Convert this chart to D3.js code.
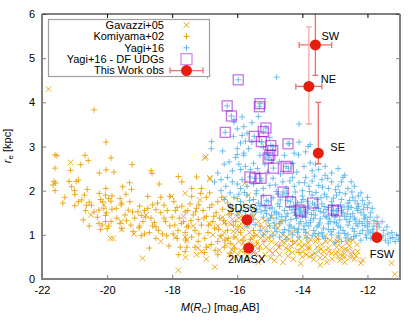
<!DOCTYPE html>
<html>
<head>
<meta charset="utf-8">
<script src="https://cdn.jsdelivr.net/npm/d3@7"></script>
<style>
  body { margin: 0; background: #fff; }
  svg { display: block; font-family: "Liberation Sans", Arial, sans-serif; }
</style>
</head>
<body>
<script>
// ---- data: [M(Rc), r_e] ----
const gavazzi = [
  [-21.8,4.3],[-21.12,2.64],[-19.9,0.92],[-19.82,0.92],[-18.91,0.47],[-17.81,0.20],[-17.59,0.49],[-18.02,1.87],
  [-20.10,1.68],[-19.57,1.30],[-19.17,1.02],[-17.9,0.95],[-17.6,0.95],[-17.55,0.88],[-17.0,2.74],[-16.84,2.26],
  [-17.6,1.94],[-17.15,1.79],[-16.38,1.83],[-15.77,2.17],[-15.66,1.90],[-15.53,1.60],[-16.69,0.27],[-16.84,2.29],
  [-16.97,2.77],[-11.26,0.36],[-11.16,0.11],[-12.15,0.43],[-17.2,0.7],[-17.1,0.62],[-16.89,0.73],[-16.17,0.66],
  [-13.77,0.51],[-12.9,0.51],[-12.2,0.36],
  [-16.6,1.2],[-16.4,1.05],[-16.3,0.9],[-16.2,1.25],[-16.1,0.75],[-16.0,1.1],[-15.9,0.65],[-15.8,0.95],[-15.7,1.2],
  [-15.6,0.8],[-15.5,0.6],[-15.4,1.0],[-15.3,0.75],[-15.2,1.15],[-15.1,0.9],[-15.0,0.65],[-14.9,1.05],[-14.8,0.8],
  [-14.7,0.55],[-14.6,1.0],[-14.5,0.7],[-14.4,0.9],[-14.3,0.6],[-14.2,1.1],[-14.1,0.8],[-14.0,0.5],[-13.9,0.95],
  [-13.8,0.7],[-13.7,0.55],[-13.6,0.85],[-13.5,0.62],[-13.4,0.78],[-13.3,0.5],[-13.2,0.7],[-13.1,0.58],[-13.0,0.82],
  [-12.9,0.6],[-12.8,0.72],[-12.7,0.5],[-12.6,0.65],[-12.5,0.55],[-12.4,0.45],[-12.3,0.62],
  [-16.45,1.4],[-16.15,1.35],[-15.95,0.85],[-15.75,0.72],[-15.55,0.92],[-15.35,1.3],[-15.15,0.55],[-14.95,0.85],
  [-14.75,1.15],[-14.55,0.82],[-14.35,0.75],[-14.15,0.65],[-13.95,0.78],[-13.75,0.9],[-13.55,0.72],[-13.35,0.62],
  [-13.15,0.88],[-12.95,0.72],[-12.75,0.6],[-12.55,0.75],[-15.85,1.15],[-15.25,0.45],[-14.85,0.42],[-14.45,0.52],
  [-13.65,0.45],[-13.25,0.38],[-12.85,0.42],[-16.25,0.55],[-14.65,1.3],[-15.05,1.2],
  [-16.52,0.95],[-16.35,0.78],[-16.12,1.08],[-15.98,0.55],[-15.82,0.82],[-15.68,0.52],[-15.45,0.75],[-15.28,0.92],
  [-15.12,0.72],[-14.98,0.48],[-14.82,0.65],[-14.62,0.85],[-14.48,0.95],[-14.28,0.45],[-14.12,0.92],[-13.98,0.62],
  [-13.82,0.82],[-13.62,0.58],[-13.42,0.68],[-13.28,0.85],[-13.08,0.45],[-12.92,0.85],[-12.78,0.52],[-12.62,0.82],
  [-12.45,0.62],[-12.32,0.78],[-12.45,0.88],[-16.05,0.95],[-15.88,1.25],[-15.62,1.05],[-15.42,0.58],[-15.18,1.02],
  [-14.92,0.58],[-14.72,0.72],[-14.42,0.65],[-14.22,0.82],[-14.02,0.72],[-13.88,0.55],[-13.58,0.95],[-13.45,0.48],
  [-13.18,0.62],[-12.98,0.58],[-12.68,0.68],[-12.52,0.48],[-12.35,0.52],[-16.75,1.0],[-16.85,1.25],[-16.55,0.65],
  [-16.4,1.28],[-15.72,0.42],[-15.35,0.38],[-14.6,0.38],[-14.05,0.35],[-13.45,0.32],[-12.7,0.38],[-15.15,1.32],
  [-14.82,1.22],[-14.35,1.05],[-13.85,1.05],[-13.3,0.98],[-12.9,0.95],[-12.6,0.88],[-15.5,1.42],[-15.95,1.38],
  [-14.95,1.4],[-16.25,1.52],[-17.35,1.2],[-17.25,0.55],[-16.95,0.45],[-18.35,0.85],[-19.55,1.12],[-20.5,1.45],
  [-18.8,1.45],[-17.65,1.42]
];

const komiyama = [
  [-21.6,2.81],[-21.54,2.79],[-21.6,2.51],[-21.12,2.46],[-20.81,2.59],[-20.68,2.80],[-20.58,2.68],[-20.03,3.10],
  [-19.88,2.74],[-20.24,2.40],[-20.03,2.47],[-19.79,2.42],[-19.23,2.59],[-18.65,2.45],[-18.62,2.39],[-20.4,3.83],
  [-21.63,2.21],[-21.58,2.17],[-21.66,2.13],[-21.6,2.0],[-21.09,2.09],[-21.17,2.21],[-20.95,2.21],[-20.88,2.24],
  [-20.61,2.03],[-20.99,1.91],[-21.36,1.72],[-21.3,1.85],[-20.88,1.75],[-20.78,1.79],[-20.99,1.66],[-20.63,1.67],
  [-20.55,1.74],[-20.66,1.55],[-20.24,1.94],[-20.04,2.05],[-19.52,2.09],[-19.31,2.18],[-19.25,2.03],
  [-20.2,1.8],[-20.13,1.75],[-20.05,1.9],[-19.95,1.82],[-19.88,1.76],[-19.85,1.88],[-19.6,1.82],[-19.55,1.72],
  [-20.4,1.52],[-20.25,1.56],[-20.1,1.6],[-20.02,1.5],[-19.72,1.6],[-19.57,1.68],[-19.35,1.56],[-19.22,1.52],
  [-19.0,1.65],[-19.05,1.52],[-18.95,1.44],[-18.75,1.6],[-18.75,1.87],[-18.4,2.15],[-18.45,1.72],[-18.5,1.57],
  [-18.35,1.5],[-18.25,1.67],[-20.73,1.34],[-20.55,1.20],[-20.25,1.26],[-20.15,1.22],[-20.05,1.3],[-19.95,1.2],
  [-19.88,1.3],[-20.2,1.12],[-20.0,1.14],[-20.05,1.44],[-19.6,1.26],[-19.55,1.14],[-19.7,1.38],[-19.4,1.32],
  [-19.27,1.22],[-19.2,1.08],[-19.15,1.38],[-19.0,1.2],[-19.02,1.16],[-18.9,1.3],[-18.82,1.40],[-18.65,1.38],
  [-18.55,1.28],[-18.5,1.18],[-18.42,1.1],[-18.7,1.05],[-18.5,0.92],[-18.3,1.02],[-18.17,0.98],[-18.07,1.2],
  [-17.97,1.02],[-17.82,1.1],[-17.72,1.26],[-17.6,1.05],[-17.55,1.18],[-18.70,0.70],[-18.1,0.75],[-17.8,0.55],
  [-17.75,0.72],[-17.55,0.72],[-17.81,2.32],[-17.25,2.31],[-17.12,1.94],[-17.4,1.87],[-17.4,2.05],[-17.7,2.2],
  [-18.07,1.87],[-17.7,1.65],[-17.6,1.52],[-17.45,1.7],[-17.35,1.45],[-17.25,1.6],[-17.2,1.35],[-17.05,1.55],
  [-16.95,1.42],[-16.85,1.62],[-16.75,1.3],[-16.65,1.5],[-16.55,1.38],[-16.45,1.58],[-16.35,1.25],[-16.25,1.45],
  [-16.15,1.6],[-16.05,1.3],[-15.95,1.5],[-15.85,1.4],[-17.65,1.3],[-17.5,1.2],[-17.3,1.1],[-17.1,1.22],
  [-16.9,1.05],[-16.7,1.15],[-16.5,0.98],[-16.3,1.1],[-16.1,0.95],[-15.9,1.05],[-17.4,0.95],[-17.2,0.85],
  [-17.0,0.92],[-16.8,0.78],[-16.6,0.85],[-16.4,0.72],[-16.2,0.8],[-15.6,0.9],[-15.4,0.82],[-15.3,1.2],
  [-15.5,1.1],[-16.95,1.85],[-16.6,1.75],[-16.3,1.72],[-17.1,2.05],[-16.85,1.95],[-16.0,1.82],[-15.8,1.68],
  [-15.55,1.45],[-17.6,0.62],[-17.0,0.6],[-16.6,0.55],[-16.2,0.58],[-18.0,1.4],[-17.9,1.55],[-17.85,0.92],
  [-18.2,1.3],[-15.0,0.95],[-14.7,0.75],[-14.3,0.85],[-13.8,0.7],[-13.5,0.9],[-14.1,0.6],
  [-17.92,1.22],[-17.78,1.38],[-17.58,0.88],[-17.42,1.32],[-17.28,1.52],[-17.18,1.02],[-17.02,1.38],[-16.88,1.22],
  [-16.72,1.42],[-16.58,1.12],[-16.42,1.32],[-16.28,0.92],[-16.12,1.22],[-15.98,1.18],[-15.82,0.88],[-15.68,1.32],
  [-15.48,0.98],[-15.32,0.68],[-15.18,0.85],[-17.85,1.62],[-17.52,1.55],[-17.18,1.68],[-16.78,1.68],[-16.48,1.85],
  [-16.18,1.48],[-17.3,0.72],[-16.95,0.72],[-16.68,0.65],[-16.38,0.88],[-16.08,0.68],[-15.78,0.62],
  [-19.45,1.45],[-19.3,1.75],[-18.85,1.55],[-18.6,1.68],[-18.25,1.38],[-18.85,1.02],[-18.6,1.2],[-18.95,0.98],
  [-19.85,1.58],[-20.3,1.4],[-20.48,1.67],[-21.0,2.0],[-20.7,1.9],[-19.42,1.92],[-18.35,1.85],[-18.15,1.55],
  [-17.95,1.75]
];

const yagi = [
  [-16.92,4.60],[-14.79,4.57],[-14.10,3.51],[-16.79,3.11],[-13.82,3.00],[-13.90,2.88],
  [-15.85,3.67],[-16.10,3.61],[-16.10,3.55],[-15.55,3.54],[-15.35,3.68],[-16.0,3.40],[-15.8,3.45],[-15.85,3.25],
  [-15.7,3.30],[-15.75,3.12],[-15.55,3.10],[-15.65,2.95],[-15.8,2.85],[-16.0,2.82],[-15.8,2.80],[-15.0,3.2],
  [-15.1,2.82],[-15.3,2.80],[-16.12,3.23],[-15.9,3.08],[-16.0,2.95],[-16.05,2.75],[-15.95,2.60],[-15.75,2.55],
  [-15.9,2.48],[-16.15,2.45],[-15.6,2.48],[-15.25,3.10],[-15.2,2.98],[-14.9,3.0],[-14.4,3.07],[-14.1,3.1],
  [-13.76,3.04],[-14.12,2.81],[-13.76,2.63],[-13.95,2.55],[-13.7,2.45],[-13.5,2.48],
  [-16.3,2.30],[-16.15,2.2],[-16.0,2.15],[-15.9,2.05],[-15.85,2.25],[-15.7,2.1],[-15.5,2.15],[-15.4,2.0],
  [-15.25,2.22],[-15.2,2.05],[-15.0,2.12],[-14.9,2.28],[-14.8,1.98],[-14.6,2.2],[-14.5,2.05],[-14.3,2.3],
  [-14.25,2.1],[-14.1,2.18],[-14.0,2.0],[-13.9,2.3],[-13.8,2.1],[-13.7,2.22],[-13.5,2.12],[-13.4,2.25],
  [-13.2,2.05],[-13.1,2.2],[-12.9,2.1],[-12.75,2.3],[-12.6,2.05],
  [-16.1,1.85],[-15.9,1.75],[-15.7,1.9],[-15.5,1.8],[-15.35,1.72],[-15.2,1.88],[-15.05,1.76],[-14.9,1.84],
  [-14.75,1.7],[-14.6,1.9],[-14.45,1.78],[-14.3,1.85],[-14.15,1.72],[-14.0,1.88],[-13.85,1.76],[-13.7,1.9],
  [-13.55,1.8],[-13.4,1.7],[-13.25,1.86],[-13.1,1.75],[-12.95,1.9],[-12.8,1.8],[-12.6,1.72],[-12.45,1.85],
  [-12.3,1.7],[-12.15,1.78],[-12.0,1.62],
  [-15.9,1.55],[-15.6,1.62],[-15.45,1.5],[-15.3,1.65],[-15.15,1.55],[-15.0,1.6],[-14.85,1.52],[-14.7,1.64],
  [-14.55,1.55],[-14.4,1.62],[-14.25,1.5],[-14.1,1.6],[-13.95,1.52],[-13.8,1.65],[-13.65,1.55],[-13.5,1.6],
  [-13.35,1.5],[-13.2,1.62],[-13.05,1.55],[-12.9,1.6],[-12.75,1.5],[-12.6,1.58],[-12.45,1.48],[-12.3,1.55],
  [-12.1,1.45],[-11.9,1.5],
  [-15.5,1.35],[-15.2,1.4],[-15.05,1.32],[-14.95,1.45],[-14.8,1.38],[-14.65,1.3],[-14.5,1.42],[-14.35,1.35],
  [-14.2,1.44],[-14.05,1.3],[-13.9,1.4],[-13.75,1.33],[-13.6,1.45],[-13.45,1.36],[-13.3,1.42],[-13.15,1.3],
  [-13.0,1.4],[-12.85,1.34],[-12.7,1.42],[-12.55,1.3],[-12.4,1.38],[-12.25,1.3],[-12.1,1.36],[-11.95,1.25],
  [-11.8,1.32],
  [-15.0,1.2],[-14.85,1.15],[-14.7,1.25],[-14.55,1.12],[-14.4,1.22],[-14.25,1.15],[-14.1,1.25],[-13.95,1.12],
  [-13.8,1.2],[-13.65,1.1],[-13.5,1.22],[-13.35,1.15],[-13.2,1.25],[-13.05,1.12],[-12.9,1.2],[-12.75,1.1],
  [-12.6,1.22],[-12.45,1.14],[-12.3,1.2],[-12.15,1.1],[-12.0,1.18],[-11.85,1.12],[-11.5,1.1],
  [-14.3,1.0],[-14.1,0.95],[-13.9,1.05],[-13.7,0.98],[-13.5,1.02],[-13.3,0.92],[-13.1,1.0],[-12.9,0.95],
  [-12.7,1.03],[-12.5,0.9],[-12.35,0.98],[-12.2,0.88],[-12.05,1.0],[-11.9,0.92],[-11.6,0.95],[-11.45,0.88],
  [-11.3,0.92],[-11.15,0.85],[-11.05,0.9],[-12.8,0.85],[-13.0,0.82],
  [-13.3,2.55],[-13.1,2.4],[-12.9,2.5],[-12.7,2.35],[-12.5,2.2],[-12.4,2.1],[-12.2,1.95],[-12.0,1.85],
  [-11.85,1.6],[-11.7,1.4],[-11.55,1.3],[-11.4,1.18],[-11.25,1.05],[-11.1,1.0],[-13.6,2.6],[-13.3,2.35],
  [-12.8,2.2],[-16.5,2.0],[-16.4,1.8],[-16.6,2.4],[-16.2,1.65],[-16.0,1.45],[-15.8,1.35],[-15.7,1.2],
  [-15.3,1.1],[-15.2,1.0],[-14.7,0.95],[-14.5,0.9],[-16.8,2.95],[-16.4,2.6],
  [-14.45,1.48],[-14.2,1.58],[-14.0,1.42],[-13.85,1.5],[-13.65,1.37],[-13.45,1.53],[-13.25,1.4],[-13.1,1.48],
  [-12.95,1.27],[-12.8,1.55],[-12.65,1.35],[-12.5,1.62],[-12.35,1.25],[-12.2,1.5],[-12.05,1.4],[-13.55,1.18],
  [-13.75,1.28],[-13.95,1.2],[-14.15,1.05],[-14.35,1.18],[-14.6,1.05],[-13.4,1.05],[-13.2,1.12],[-12.6,1.0],
  [-12.4,1.08],[-11.7,1.02],[-11.8,1.2],[-12.0,1.3],[-14.8,1.5],[-15.1,1.48],[-15.4,1.58],[-15.6,1.42],
  [-15.42,1.93],[-15.17,1.67],[-14.93,1.61],[-14.68,1.79],[-14.52,1.33],[-14.27,1.66],[-14.03,1.74],[-13.88,1.27],
  [-13.62,1.68],[-13.43,1.84],[-13.18,1.36],[-12.97,1.46],[-12.72,1.63],[-12.52,1.41],[-12.27,1.64],[-12.08,1.21],
  [-11.92,1.04],[-11.64,1.18],[-11.37,1.02],[-11.22,0.94],[-14.87,1.27],[-14.63,1.41],[-14.42,1.09],[-14.18,1.37],
  [-13.97,1.62],[-13.72,1.46],[-13.47,1.27],[-13.27,1.57],[-13.02,1.29],[-12.83,1.17],[-12.62,1.47],[-12.38,1.34],
  [-12.16,1.26],[-11.98,1.09],[-11.76,0.97],[-14.12,1.13],[-13.86,0.93],[-13.61,1.03],[-13.38,0.97],[-13.12,1.07],
  [-12.88,1.04],[-12.66,0.93],[-12.42,0.96],[-12.23,1.03],[-12.03,0.93],[-11.83,1.06],[-11.52,0.98],[-11.36,0.82],
  [-15.32,2.38],[-15.07,2.42],[-14.83,2.13],[-14.67,2.38],[-14.38,2.22],[-14.17,2.42],[-13.93,2.18],[-13.63,2.33],
  [-13.38,2.08],[-13.22,2.28],[-12.98,2.02],[-12.68,1.93],[-12.48,1.97],[-12.28,1.88],[-12.1,1.68],[-11.95,1.72],
  [-15.62,1.78],[-15.78,1.96],[-15.95,1.92],[-16.22,1.95],[-16.35,2.1],[-16.5,2.25],[-16.7,2.2],[-16.25,2.65],
  [-16.45,2.9],[-15.5,2.62],[-15.38,2.5],[-15.15,2.6],[-14.95,2.68],[-14.7,2.65],[-14.55,2.8],[-14.3,2.62],
  [-14.25,2.85],[-14.75,1.92],[-14.48,1.94],[-14.22,1.97],[-13.98,1.8],[-13.78,1.98],[-13.58,1.96],[-13.32,1.92],
  [-13.05,1.83],[-12.85,1.96],[-12.55,1.78],[-12.38,1.77],[-15.27,1.52],[-15.12,1.63],[-14.98,1.38],[-14.72,1.47],
  [-14.32,1.57],[-14.08,1.49],[-13.83,1.57],[-13.58,1.62],[-13.33,1.64],[-13.08,1.66],[-12.83,1.68],[-12.58,1.65],
  [-12.33,1.6],[-12.13,1.58],[-11.92,1.4],[-11.68,1.25],[-14.78,1.07],[-14.9,0.98],[-15.08,1.08],[-15.45,1.23],
  [-15.62,1.28],[-15.75,1.52]
];

// Yagi+16 galaxies flagged as UDGs (also plotted as Yagi points)
const udgs = [
  [-15.97,4.51],[-16.31,3.92],[-16.18,3.69],[-15.30,3.97],[-15.32,3.90],[-16.37,3.32],[-15.12,3.42],[-15.20,3.34],
  [-15.48,3.23],[-15.26,3.11],[-14.44,3.06],[-14.97,3.02],[-14.91,2.91],[-15.00,2.81],[-15.05,2.74],[-14.89,2.51],
  [-14.50,2.55],[-14.43,2.51],[-15.46,2.28],[-15.27,2.28],[-15.61,2.31],[-14.59,1.97],[-15.11,1.78],[-14.36,1.75],
  [-14.07,1.56],[-14.05,1.52],[-13.68,1.72],[-12.95,1.54],[-13.05,1.56]
];

// this work: name, M, r_e, M range, r range (null = no bar)
const obsNames = ["SW", "NE", "SE", "SDSS", "2MASX", "FSW"];
const obsM     = [-13.6, -13.8, -13.51, -15.70, -15.65, -11.71];
const obsR     = [5.3, 4.36, 2.85, 1.34, 0.70, 0.94];
const obsMErr  = [[-14.1,-13.1], [-14.2,-13.4], null, null, null, null];
const obsRErr  = [[4.61,6.3], [3.51,5.71], [2.61,4.0], null, null, [0.94,1.30]];

const xTicks = [-22, -20, -18, -16, -14, -12];
const yTicks = [0, 1, 2, 3, 4, 5, 6];
const legendLabels = ["Gavazzi+05", "Komiyama+02", "Yagi+16", "Yagi+16 - DF UDGs", "This Work obs"];

// ---- layout ----
const width = 419, height = 327;
const plotL = 42, plotR = 400, plotT = 14, plotB = 279;

const orange = "#e69f00", blue = "#56b4e9", purple = "#9400d3", red = "#e51e10";

const svg = d3.select("body").append("svg")
  .attr("width", width)
  .attr("height", height);

const x = d3.scaleLinear().domain([-22, -11]).range([plotL, plotR]);
const y = d3.scaleLinear().domain([0, 6]).range([plotB, plotT]);

svg.append("clipPath").attr("id", "plotclip")
  .append("rect").attr("x", plotL).attr("y", plotT)
  .attr("width", plotR - plotL).attr("height", plotB - plotT);

const plot = svg.append("g").attr("clip-path", "url(#plotclip)");

// symbol paths
function plus(s) { return `M${-s},0H${s}M0,${-s}V${s}`; }
function cross(s) { return `M${-s},${-s}L${s},${s}M${-s},${s}L${s},${-s}`; }

plot.append("g").selectAll("path")
  .data(gavazzi).enter().append("path")
  .attr("transform", d => `translate(${x(d[0])},${y(d[1])})`)
  .attr("d", cross(2.8))
  .attr("fill", "none").attr("stroke", orange).attr("stroke-width", 1)
  .attr("opacity", 0.85);

plot.append("g").selectAll("path")
  .data(komiyama).enter().append("path")
  .attr("transform", d => `translate(${x(d[0])},${y(d[1])})`)
  .attr("d", plus(3))
  .attr("fill", "none").attr("stroke", orange).attr("stroke-width", 1)
  .attr("opacity", 0.85);

plot.append("g").selectAll("path")
  .data(yagi.concat(udgs)).enter().append("path")
  .attr("transform", d => `translate(${x(d[0])},${y(d[1])})`)
  .attr("d", plus(3))
  .attr("fill", "none").attr("stroke", blue).attr("stroke-width", 1)
  .attr("opacity", 0.85);

plot.append("g").selectAll("rect")
  .data(udgs).enter().append("rect")
  .attr("x", d => x(d[0]) - 5)
  .attr("y", d => y(d[1]) - 5)
  .attr("width", 10).attr("height", 10)
  .attr("fill", "none").attr("stroke", purple).attr("stroke-width", 1.3)
  .attr("opacity", 0.55);

// error bars
const obs = obsNames.map((n, i) => ({ name: n, m: obsM[i], r: obsR[i], mErr: obsMErr[i], rErr: obsRErr[i] }));
const barColor = { SW: "#ef6f6a", NE: "#f7a8a5", SE: "#ef6f6a", FSW: "#f08a86" };
const cap = 3;
const bars = plot.append("g").attr("fill", "none").attr("stroke-width", 1.3);
obs.forEach(o => {
  const cx = x(o.m), cy = y(o.r);
  if (o.rErr) {
    const y0 = y(o.rErr[0]), y1 = y(o.rErr[1]);
    bars.append("path")
      .attr("stroke", barColor[o.name])
      .attr("d", `M${cx},${y0}V${y1}M${cx - cap},${y0}H${cx + cap}M${cx - cap},${y1}H${cx + cap}`);
  }
  if (o.mErr) {
    const x0 = x(o.mErr[0]), x1 = x(o.mErr[1]);
    bars.append("path")
      .attr("stroke", "#ef6f6a")
      .attr("d", `M${x0},${cy}H${x1}M${x0},${cy - cap}V${cy + cap}M${x1},${cy - cap}V${cy + cap}`);
  }
});

plot.append("g").selectAll("circle")
  .data(obs).enter().append("circle")
  .attr("cx", d => x(d.m)).attr("cy", d => y(d.r))
  .attr("r", 5.5).attr("fill", red);

// point labels (offsets in px from the marker)
const labelPos = {
  SW: [6, -5, "start"], NE: [12, -3, "start"], SE: [12, -2, "start"],
  SDSS: [-5, -8, "middle"], "2MASX": [-2, 14.5, "middle"], FSW: [5, 21, "middle"]
};
svg.append("g").selectAll("text")
  .data(obs).enter().append("text")
  .attr("x", d => x(d.m) + labelPos[d.name][0])
  .attr("y", d => y(d.r) + labelPos[d.name][1])
  .attr("text-anchor", d => labelPos[d.name][2])
  .attr("font-size", 11)
  .text(d => d.name);

// axes, ticks point inward
const fmt = d => String(d);
svg.append("g").attr("transform", `translate(0,${plotB})`)
  .call(d3.axisBottom(x).tickValues(xTicks).tickSize(-4).tickPadding(7).tickFormat(fmt))
  .call(g => g.select(".domain").remove())
  .call(g => g.selectAll("line").attr("stroke", "#808080"))
  .call(g => g.selectAll("text").attr("font-size", 11).attr("font-family", null));

svg.append("g").attr("transform", `translate(0,${plotT})`)
  .call(d3.axisTop(x).tickValues(xTicks).tickSize(-4).tickFormat(""))
  .call(g => g.select(".domain").remove());

svg.append("g").attr("transform", `translate(${plotL},0)`)
  .call(d3.axisLeft(y).tickValues(yTicks).tickSize(-4).tickPadding(7).tickFormat(fmt))
  .call(g => g.select(".domain").remove())
  .call(g => g.selectAll("line").attr("stroke", "#808080"))
  .call(g => g.selectAll("text").attr("font-size", 11).attr("font-family", null));

svg.append("g").attr("transform", `translate(${plotR},0)`)
  .call(d3.axisRight(y).tickValues(yTicks).tickSize(-4).tickFormat(""))
  .call(g => g.select(".domain").remove())
  .call(g => g.selectAll("line").attr("stroke", "#808080"));

// border
svg.append("line").attr("x1", plotL).attr("x2", plotR).attr("y1", plotT).attr("y2", plotT)
  .attr("stroke", "#000").attr("stroke-width", 1);
svg.append("path")
  .attr("d", `M${plotL},${plotT}V${plotB}H${plotR}V${plotT}`)
  .attr("fill", "none").attr("stroke", "#808080").attr("stroke-width", 2);

// axis titles
const xl = svg.append("text").attr("x", 220).attr("y", 311)
  .attr("text-anchor", "middle").attr("font-size", 11);
xl.append("tspan").attr("font-style", "italic").text("M");
xl.append("tspan").text("(");
xl.append("tspan").attr("font-style", "italic").text("R");
xl.append("tspan").attr("font-size", 8).attr("dy", 2).text("C");
xl.append("tspan").attr("dy", -2).text(") [mag,AB]");

const yl = svg.append("text").attr("transform", "translate(11,146) rotate(-90)")
  .attr("text-anchor", "middle").attr("font-size", 11);
yl.append("tspan").attr("font-style", "italic").text("r");
yl.append("tspan").attr("font-size", 8).attr("dy", 2).text("e");
yl.append("tspan").attr("dy", -2).text(" [kpc]");

// legend
const legend = svg.append("g");
legend.append("rect")
  .attr("x", 48.5).attr("y", 19.5).attr("width", 161).attr("height", 57)
  .attr("fill", "#fff").attr("stroke", "#a0a0a0").attr("stroke-width", 1.2);

const rowY = i => 25 + i * 11.4;
const sx = 186.5;
legend.selectAll("text")
  .data(legendLabels).enter().append("text")
  .attr("x", 164).attr("y", (d, i) => rowY(i))
  .attr("dy", "0.35em").attr("text-anchor", "end").attr("font-size", 11)
  .text(d => d);

legend.append("path").attr("transform", `translate(${sx},${rowY(0)})`)
  .attr("d", cross(2.8)).attr("stroke", orange).attr("fill", "none");
legend.append("path").attr("transform", `translate(${sx},${rowY(1)})`)
  .attr("d", plus(3)).attr("stroke", orange).attr("fill", "none");
legend.append("path").attr("transform", `translate(${sx},${rowY(2)})`)
  .attr("d", plus(3)).attr("stroke", blue).attr("fill", "none");
legend.append("rect").attr("x", sx - 5.5).attr("y", rowY(3) - 5.5)
  .attr("width", 11).attr("height", 11)
  .attr("fill", "none").attr("stroke", purple).attr("stroke-width", 1.3).attr("opacity", 0.45);
legend.append("path")
  .attr("d", `M170,${rowY(4)}H203M170,${rowY(4) - cap}V${rowY(4) + cap}M203,${rowY(4) - cap}V${rowY(4) + cap}`)
  .attr("stroke", "#ef6f6a").attr("stroke-width", 1.3).attr("fill", "none");
legend.append("circle").attr("cx", sx).attr("cy", rowY(4)).attr("r", 5.5).attr("fill", red);
</script>
</body>
</html>
